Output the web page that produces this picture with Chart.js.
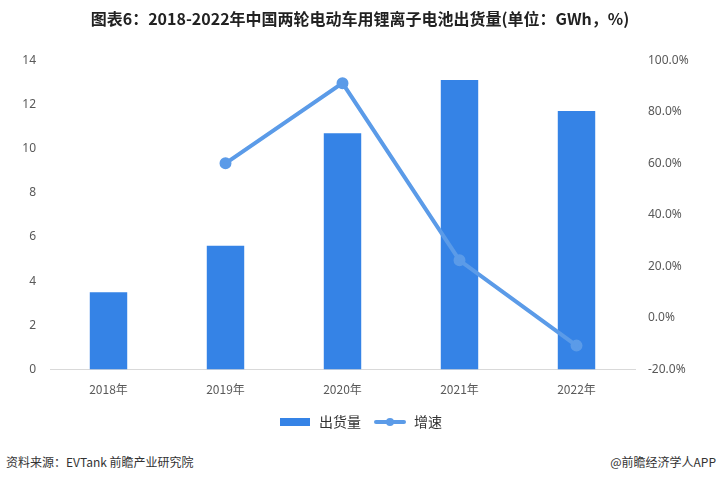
<!DOCTYPE html>
<html>
<head>
<meta charset="utf-8">
<script src="https://cdn.jsdelivr.net/npm/chart.js@4/dist/chart.umd.min.js"></script>
<style>
  body { margin: 0; background: #fff; width: 720px; height: 482px; position: relative; overflow: hidden; }
  #wrap { position: absolute; left: 0; top: 0; width: 720px; height: 443px; }
  .foot { position: absolute; top: 453px; font-family: "Noto Sans CJK SC", sans-serif; font-size: 12px; color: #333; }
</style>
</head>
<body>
<div id="wrap"><canvas id="rel1"></canvas></div>
<div class="foot" style="left:6px">资料来源：EVTank 前瞻产业研究院</div>
<div class="foot" style="right:4px">@前瞻经济学人APP</div>
<script>
var years = ['2018年', '2019年', '2020年', '2021年', '2022年'];
var shipment = [3.5, 5.6, 10.7, 13.1, 11.7];      // 出货量 GWh
var growth = [null, 60.0, 91.1, 22.4, -10.7];      // 增速 %

var barColor = '#3583E6';
var lineColor = '#5B9BE8';

// legend icons
function icon(kind) {
    var c = document.createElement('canvas');
    c.width = 34; c.height = 12;
    var g = c.getContext('2d');
    if (kind == 'bar') {
        g.fillStyle = barColor;
        g.fillRect(2, 2, 30, 8);
    } else {
        g.strokeStyle = lineColor;
        g.lineWidth = 4;
        g.lineCap = 'round';
        g.beginPath(); g.moveTo(3, 6); g.lineTo(31, 6); g.stroke();
        g.fillStyle = lineColor;
        g.beginPath(); g.arc(17, 6, 4, 0, Math.PI * 2); g.fill();
    }
    return c;
}
var icons = [icon('bar'), icon('line')];

var rel1 = new Chart(document.getElementById("rel1"), {
    type: 'bar',
    data: {
        labels: years,
        datasets: [{
            type: 'line',
            label: '增速',
            data: growth,
            yAxisID: 'y1',
            borderColor: lineColor,
            backgroundColor: lineColor,
            borderWidth: 4,
            pointRadius: 4,
            pointHoverRadius: 4,
            fill: false,
            order: 0
        }, {
            type: 'bar',
            label: '出货量',
            data: shipment,
            yAxisID: 'y',
            backgroundColor: barColor,
            barPercentage: 0.32,
            categoryPercentage: 1,
            order: 1
        }]
    },
    options: {
        responsive: true,
        maintainAspectRatio: false,
        animation: false,
        layout: { padding: { top: 6, left: 0, right: 0, bottom: 4 } },
        plugins: {
            title: {
                display: true,
                text: '图表6：2018-2022年中国两轮电动车用锂离子电池出货量(单位：GWh，%)',
                color: '#222',
                font: { family: '"Noto Sans CJK SC", sans-serif', size: 16, weight: 'bold' },
                padding: { top: 3, bottom: 32 }
            },
            legend: {
                position: 'bottom',
                reverse: true,
                labels: {
                    usePointStyle: true,
                    pointStyleWidth: 34,
                    color: '#333',
                    font: { family: '"Noto Sans CJK SC", sans-serif', size: 14 },
                    padding: 12,
                    generateLabels: function (chart) {
                        return chart.data.datasets.map(function (ds, i) {
                            return {
                                text: ds.label,
                                datasetIndex: i,
                                pointStyle: ds.type == 'bar' ? icons[0] : icons[1],
                                fontColor: '#333',
                                hidden: false
                            };
                        });
                    }
                }
            },
            tooltip: { enabled: false }
        },
        scales: {
            x: {
                grid: { display: false, drawTicks: false },
                border: { color: '#d9d9d9' },
                ticks: { color: '#595959', padding: 13, font: { family: '"Noto Sans CJK SC", sans-serif', size: 12 } },
                afterFit: function (s) { s.height -= 7; }
            },
            y: {
                position: 'left',
                min: 0, max: 14,
                ticks: { stepSize: 2, color: '#595959', padding: 6, font: { family: '"Noto Sans", sans-serif', size: 12 } },
                grid: { display: false },
                border: { display: false },
                afterFit: function (s) { s.width = 50; }
            },
            y1: {
                position: 'right',
                min: -20, max: 100,
                ticks: {
                    stepSize: 20, color: '#595959', padding: 5,
                    font: { family: '"Noto Sans", sans-serif', size: 12 },
                    callback: function (v) { return v.toFixed(1) + '%'; }
                },
                grid: { display: false },
                border: { display: false },
                afterFit: function (s) { s.width = 85; }
            }
        }
    }
});
</script>
</body>
</html>
